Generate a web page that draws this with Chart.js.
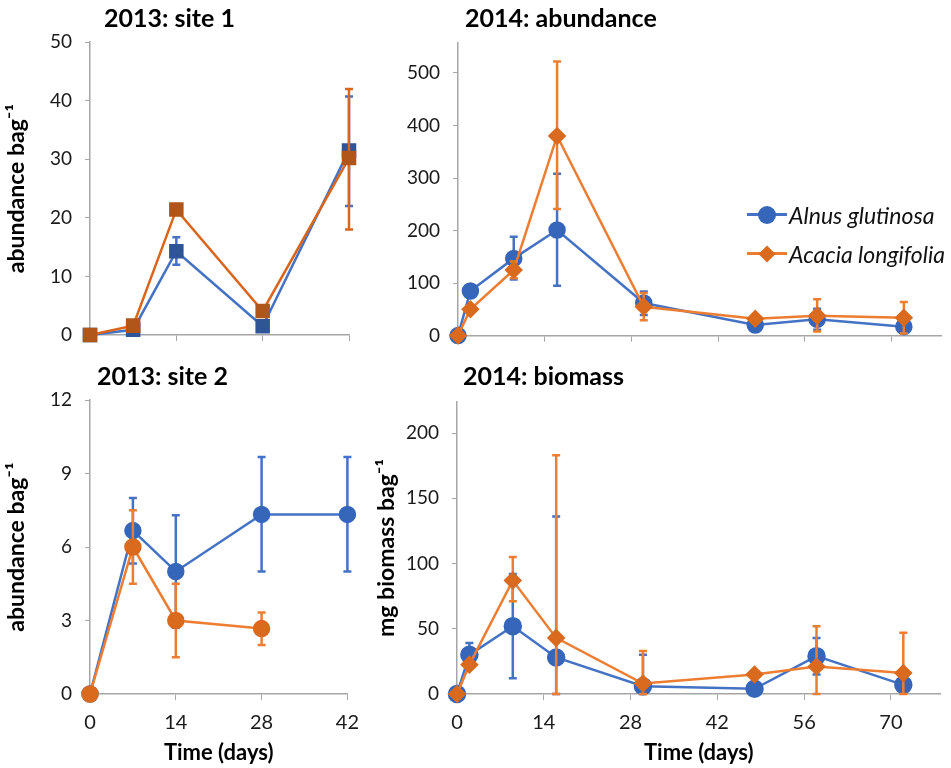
<!DOCTYPE html>
<html>
<head>
<meta charset="utf-8">
<script src="https://cdn.jsdelivr.net/npm/chart.js@4.4.1/dist/chart.umd.min.js"></script>
<style>
    body { margin: 0; background: #fff; width: 951px; height: 768px; position: relative; overflow: hidden; font-family: Lato, "Open Sans", sans-serif; }
    .panel { position: absolute; }
    #legend { position: absolute; left: 747px; top: 195px; }
    .legend-item { height: 39px; display: flex; align-items: center; font-style: italic; font-size: 23px; color: #111; }
    .legend-sym { position: relative; width: 40px; height: 3px; margin-right: 2px; }
    .legend-sym i { position: absolute; left: 50%; top: 50%; }
    .legend-sym .dot { width: 18px; height: 18px; margin: -9px 0 0 -9px; border-radius: 50%; background: #3566b9; }
    .legend-sym .diamond { width: 12px; height: 12px; margin: -6px 0 0 -6px; transform: rotate(45deg); background: #d96a1e; }
</style>
</head>
<body>
<div class="panel" style="left:0;top:0"><canvas id="site1Chart" width="370" height="360"></canvas></div>
<div class="panel" style="left:370px;top:0"><canvas id="abundanceChart" width="581" height="360"></canvas></div>
<div class="panel" style="left:0;top:360px"><canvas id="site2Chart" width="370" height="408"></canvas></div>
<div class="panel" style="left:370px;top:360px"><canvas id="biomassChart" width="581" height="408"></canvas></div>
<div id="legend"></div>
<script>
// Species names
const seriesNames = ['Alnus glutinosa', 'Acacia longifolia'];

// Sampling days
const days2013 = [0, 7, 14, 28, 42];
const days2014 = [0, 2, 9, 16, 30, 48, 58, 72];

// 2013 site 1 (abundance per bag)
const site1Alnus = [0, 0.9, 14.3, 1.5, 31.5];
const site1Acacia = [0, 1.6, 21.4, 4.1, 30.2];
const site1AlnusErr = [null, null, [12, 16.7], null, [22, 40.7]];
const site1AcaciaErr = [null, null, null, null, [18, 42]];

// 2013 site 2 (abundance per bag)
const site2Alnus = [0, 6.67, 5, 7.33, 7.33];
const site2Acacia = [0, 6, 3, 2.67, null];
const site2AlnusErr = [null, [5.33, 8], [2.7, 7.3], [5, 9.67], [5, 9.67]];
const site2AcaciaErr = [null, [4.5, 7.5], [1.5, 4.5], [2, 3.33], null];

// 2014 abundance per bag
const abundAlnus = [0, 85, 147, 201, 62, 20, 31, 17];
const abundAcacia = [0, 50, 125, 380, 55, 32, 38, 34];
const abundAlnusErr = [null, null, [107, 188], [95, 308], [39, 84], null, [11, 51], [6, 28]];
const abundAcaciaErr = [null, null, [109, 141], [241, 522], [29, 81], null, [8, 69], [4, 64]];

// 2014 biomass (mg per bag)
const biomassAlnus = [0, 30, 52, 28, 6, 4, 29, 7];
const biomassAcacia = [0, 22.5, 87, 43, 8, 15, 21, 16];
const biomassAlnusErr = [null, [21, 39], [12, 92], [0, 136], [0, 30], null, [15, 43], null];
const biomassAcaciaErr = [null, null, [71, 105], [0, 183], [0, 33], null, [0, 52], [0, 47]];

const blue = '#4472c4';
const blueMarker = '#3566b9';
const orange = '#ed7d31';
const orangeMarker = '#d96a1e';
const axisColor = '#a6a6a6';

Chart.defaults.font.family = 'Lato, "Open Sans", sans-serif';
Chart.defaults.color = '#1a1a1a';

function toPoints(days, values) {
    return days.map((d, i) => ({x: d, y: values[i]}));
}

// Draws mean +/- error bars under each dataset's line
const errorBarPlugin = {
    id: 'errorBars',
    beforeDatasetDraw(chart, args) {
        const ds = chart.data.datasets[args.index];
        if (!ds.errorBars) return;
        const {ctx} = chart;
        const xs = chart.scales.x, ys = chart.scales.y;
        ctx.save();
        ctx.strokeStyle = ds.borderColor;
        ctx.lineWidth = 2.5;
        ds.errorBars.forEach((range, i) => {
            if (!range) return;
            const px = xs.getPixelForValue(ds.data[i].x);
            const lo = ys.getPixelForValue(range[0]);
            const hi = ys.getPixelForValue(range[1]);
            ctx.beginPath();
            ctx.moveTo(px, lo); ctx.lineTo(px, hi);
            ctx.moveTo(px - 4, lo); ctx.lineTo(px + 4, lo);
            ctx.moveTo(px - 4, hi); ctx.lineTo(px + 4, hi);
            ctx.stroke();
        });
        ctx.restore();
    }
};

// Nudges the panel title a little to the right of the y axis
const titleShiftPlugin = {
    id: 'titleShift',
    afterLayout(chart, args, opts) {
        const t = chart.titleBlock;
        if (!t || !opts.offset) return;
        t.left += opts.offset;
        t.right += opts.offset;
    }
};

function makeDataset(label, days, values, errors, color, marker, style, radius, order) {
    return {
        label: label,
        data: toPoints(days, values),
        errorBars: errors,
        borderColor: color,
        backgroundColor: marker,
        pointBackgroundColor: marker,
        pointBorderColor: marker,
        pointStyle: style,
        pointRadius: radius,
        pointHoverRadius: radius,
        borderWidth: 2.5,
        tension: 0,
        clip: false,
        order: order
    };
}

function makeChart(id, cfg) {
    const ctx = document.getElementById(id).getContext('2d');
    return new Chart(ctx, {
        type: 'line',
        data: {datasets: cfg.datasets},
        options: {
            responsive: false,
            animation: false,
            layout: {padding: {left: 0, right: cfg.padRight, top: 0, bottom: 0}},
            plugins: {
                legend: {display: false},
                tooltip: {enabled: false},
                titleShift: {offset: cfg.titleShift},
                title: {
                    display: true,
                    text: cfg.title,
                    align: 'start',
                    fullSize: false,
                    color: '#000',
                    font: {size: 25, weight: 'bold'},
                    padding: {top: cfg.titleTop, bottom: cfg.titleBottom}
                }
            },
            scales: {
                x: {
                    type: 'linear',
                    min: 0,
                    max: cfg.xMax,
                    border: {color: axisColor, width: 1.5},
                    grid: {drawOnChartArea: false, drawTicks: true, tickLength: 6, color: axisColor},
                    ticks: {display: cfg.xLabels, stepSize: 14, includeBounds: false, padding: 11, font: {size: 20}},
                    title: {
                        display: cfg.xLabels,
                        text: 'Time (days)',
                        color: '#000',
                        font: {size: 22, weight: 'bold'},
                        padding: {top: 0, bottom: 2}
                    },
                    afterFit: function(scale) { scale.height = cfg.xHeight; }
                },
                y: {
                    type: 'linear',
                    min: 0,
                    max: cfg.yMax,
                    border: {color: axisColor, width: 1.5},
                    grid: {drawOnChartArea: false, drawTicks: true, tickLength: 5, color: axisColor},
                    ticks: {stepSize: cfg.yStep, includeBounds: false, padding: 13, font: {size: 19}},
                    title: {
                        display: !!cfg.yTitle,
                        text: cfg.yTitle,
                        color: '#000',
                        font: {size: 23, weight: 'bold'},
                        padding: {top: 3, bottom: 0}
                    },
                    afterFit: function(scale) { scale.width = cfg.yWidth; }
                }
            }
        },
        plugins: [errorBarPlugin, titleShiftPlugin]
    });
}

// 2013: site 1
makeChart('site1Chart', {
    title: '2013: site 1',
    titleTop: 4, titleBottom: 8, titleShift: 14,
    yTitle: 'abundance bag\u207B\u00B9',
    yMax: 50, yStep: 10, xMax: 42, xLabels: false,
    yWidth: 90, xHeight: 25, padRight: 21,
    datasets: [
        makeDataset(seriesNames[0], days2013, site1Alnus, site1AlnusErr, blue, '#2f5597', 'rect', 8.5, 1),
        makeDataset(seriesNames[1], days2013, site1Acacia, site1AcaciaErr, '#d9661c', '#b0561a', 'rect', 8.5, 0)
    ]
});

// 2014: abundance
makeChart('abundanceChart', {
    title: '2014: abundance',
    titleTop: 4, titleBottom: 9, titleShift: 7,
    yTitle: '',
    yMax: 557, yStep: 100, xMax: 78, xLabels: false,
    yWidth: 88, xHeight: 24, padRight: 3,
    datasets: [
        makeDataset(seriesNames[0], days2014, abundAlnus, abundAlnusErr, blue, blueMarker, 'circle', 7.5, 1),
        makeDataset(seriesNames[1], days2014, abundAcacia, abundAcaciaErr, orange, orangeMarker, 'rectRot', 7.5, 0)
    ]
});

// 2013: site 2
makeChart('site2Chart', {
    title: '2013: site 2',
    titleTop: 2, titleBottom: 8, titleShift: 7,
    yTitle: 'abundance bag\u207B\u00B9',
    yMax: 12, yStep: 3, xMax: 42, xLabels: true,
    yWidth: 90, xHeight: 74, padRight: 21,
    datasets: [
        makeDataset(seriesNames[0], days2013, site2Alnus, site2AlnusErr, blue, blueMarker, 'circle', 7.5, 1),
        makeDataset(seriesNames[1], days2013, site2Acacia, site2AcaciaErr, orange, orangeMarker, 'circle', 7.5, 0)
    ]
});

// 2014: biomass
makeChart('biomassChart', {
    title: '2014: biomass',
    titleTop: 2, titleBottom: 9.7, titleShift: 6,
    yTitle: 'mg biomass bag\u207B\u00B9',
    yMax: 224, yStep: 50, xMax: 78, xLabels: true,
    yWidth: 87, xHeight: 74, padRight: 3,
    datasets: [
        makeDataset(seriesNames[0], days2014, biomassAlnus, biomassAlnusErr, blue, blueMarker, 'circle', 8, 1),
        makeDataset(seriesNames[1], days2014, biomassAcacia, biomassAcaciaErr, orange, orangeMarker, 'rectRot', 7.5, 0)
    ]
});

// Legend drawn next to the 2014 abundance panel
const legendEl = document.getElementById('legend');
const legendSymbols = [
    {color: blue, shape: 'dot'},
    {color: orange, shape: 'diamond'}
];
seriesNames.forEach((name, i) => {
    const item = document.createElement('div');
    item.className = 'legend-item';
    const sym = document.createElement('span');
    sym.className = 'legend-sym';
    sym.style.background = legendSymbols[i].color;
    const mark = document.createElement('i');
    mark.className = legendSymbols[i].shape;
    sym.appendChild(mark);
    item.appendChild(sym);
    item.appendChild(document.createTextNode(name));
    legendEl.appendChild(item);
});
</script>
</body>
</html>
